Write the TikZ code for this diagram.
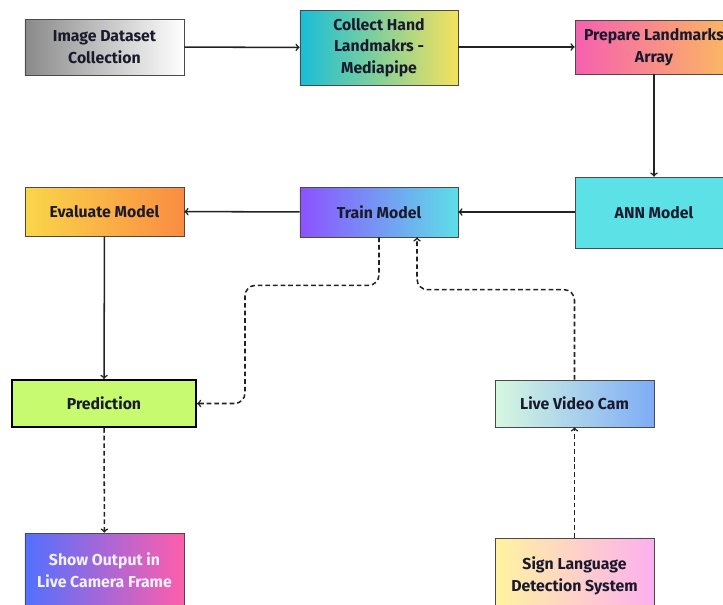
\documentclass[tikz,border=0pt]{standalone}
\usepackage{fontspec}
\setmainfont{Fira Sans}
\usetikzlibrary{positioning}

\definecolor{boxline}{HTML}{4A4A4A}
\definecolor{arrowline}{HTML}{222222}
\definecolor{boxtext}{HTML}{1A1A2E}

\tikzset{
	box/.style = {draw=boxline, line width=0.6pt, align=center, inner sep=2pt,
		font=\bfseries\fontsize{13.5}{18.5}\selectfont, text=boxtext},
	link/.style = {->, arrowline, line width=1.3pt},
	dashlink/.style = {link, dash pattern=on 4pt off 2.5pt, rounded corners=9},
}

\begin{document}
\begin{tikzpicture}[x=0.03cm, y=-0.03cm]
	% canvas
	\useasboundingbox (0, 0) rectangle (723, 604);
	\clip (0, 0) rectangle (723, 604);
	\fill[white] (0, 0) rectangle (723, 604);
	
	% top row
	\node[box, minimum width=4.77cm, minimum height=1.68cm,
		left color={rgb,255:red,138;green,138;blue,138}, right color=white] (imgdata) at (104.5, 47) {Image Dataset\\Collection};
	\node[box, minimum width=4.74cm, minimum height=2.25cm,
		left color={rgb,255:red,24;green,190;blue,214}, right color={rgb,255:red,244;green,226;blue,92}] (collect) at (379, 47.5) {Collect Hand\\Landmakrs -\\Mediapipe};
	\node[box, minimum width=4.74cm, minimum height=1.62cm,
		left color={rgb,255:red,246;green,96;blue,176}, right color={rgb,255:red,251;green,186;blue,96}] (prepare) at (654, 47) {Prepare Landmarks\\Array};
	
	% middle row
	\node[box, minimum width=4.74cm, minimum height=2.13cm,
		fill={rgb,255:red,92;green,225;blue,230}] (ann) at (654, 212.5) {ANN Model};
	\node[box, minimum width=4.74cm, minimum height=1.5cm,
		left color={rgb,255:red,140;green,82;blue,255}, right color={rgb,255:red,94;green,222;blue,232}] (train) at (379, 212) {Train Model};
	\node[box, minimum width=4.77cm, minimum height=1.47cm,
		left color={rgb,255:red,250;green,214;blue,74}, right color={rgb,255:red,250;green,140;blue,66}] (evaluate) at (104.5, 211.5) {Evaluate Model};
	
	% lower rows
	\node[box, draw=black, line width=1.8pt, minimum width=5.52cm, minimum height=1.41cm,
		fill={rgb,255:red,199;green,250;blue,110}] (predict) at (104, 403.5) {Prediction};
	\node[box, minimum width=4.77cm, minimum height=1.41cm,
		left color={rgb,255:red,214;green,248;blue,224}, right color={rgb,255:red,126;green,172;blue,246}] (livecam) at (574.5, 403.5) {Live Video Cam};
	\node[box, minimum width=4.77cm, minimum height=2.25cm,
		left color={rgb,255:red,82;green,112;blue,255}, right color={rgb,255:red,255;green,94;blue,172}, text=white!95!blue] (output) at (104.5, 570.5) {Show Output in\\Live Camera Frame};
	\node[box, minimum width=4.77cm, minimum height=2.25cm,
		left color={rgb,255:red,255;green,243;blue,160}, right color={rgb,255:red,252;green,176;blue,240}] (signsys) at (574.5, 575.5) {Sign Language\\Detection System};
	
	% solid connectors
	\draw[link] (imgdata) -- (collect);
	\draw[link] (collect.east |- imgdata) -- (prepare.west |- imgdata);
	\draw[link] (prepare) -- (ann);
	\draw[link] (ann.west |- train) -- (train);
	\draw[link] (train) -- (evaluate);
	\draw[link] (evaluate) -- (predict);
	
	% dashed connectors
	\draw[dashlink] (train.south) -- ++(0, 48) -| (245, 403.5) -- (predict.east);
	\draw[dashlink] (livecam.north) -- ++(0, -90) -| ([xshift=1.14cm]train.south);
	\draw[link, dash pattern=on 4pt off 2.5pt] (predict) -- (output);
	\draw[link, dash pattern=on 4pt off 2.5pt] (signsys) -- (livecam);
\end{tikzpicture}
\end{document}
